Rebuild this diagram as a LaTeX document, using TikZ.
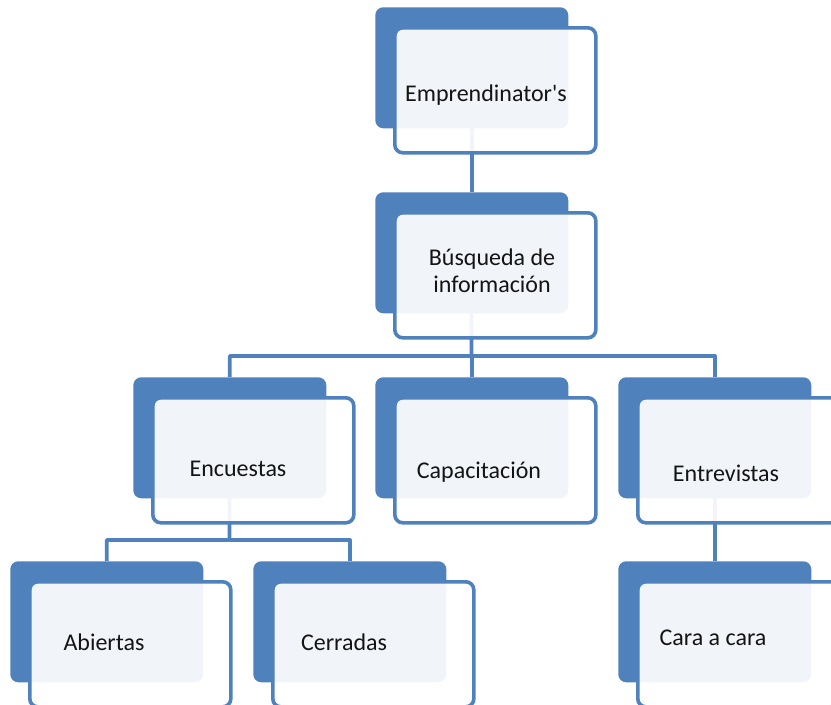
\documentclass[tikz,border=0pt]{standalone}
\usepackage{fontspec}
\setmainfont{Carlito}[Ligatures=TeXOff]
\usetikzlibrary{backgrounds}
\definecolor{boxblue}{RGB}{79,129,189}
\definecolor{inkgray}{RGB}{20,20,20}

\begin{document}
\begin{tikzpicture}[x=0.75pt, y=-0.75pt,
    backbox/.style={fill=boxblue, rounded corners=6pt, inner sep=0pt, anchor=north west,
        minimum width=193*0.75pt, minimum height=121*0.75pt},
    frontbox/.style={draw=boxblue, line width=2.7pt, fill=white, fill opacity=0.92,
        rounded corners=6pt, inner sep=0pt, anchor=north west,
        minimum width=201*0.75pt, minimum height=125*0.75pt},
    boxtext/.style={text=inkgray, align=center, font=\fontsize{18}{20.5}\selectfont},
    link/.style={draw=boxblue, line width=2.8pt, line join=round}]
    \useasboundingbox (0,0) rectangle (831,704);
    \clip (0,0) rectangle (831,704);
    % back box corners (top left)
    \def\pos { (375,7)
             , (375,192)
             , (133,377)
             , (375,377)
             , (618,377)
             , (10,561)
             , (253,561)
             , (618,561)
             };
    % draw box pairs
    \foreach \coords [count=\index] in \pos
    {
        \node[backbox] (b_\index) at \coords {};
        \node[frontbox] (f_\index) at ([shift={(18,19)}]b_\index.north west) {};
    }
    % labels
    \foreach \tx/\ty/\txt [count=\index] in {486/95/Emprendinator's,
        492/271/{Búsqueda de\\información}, 238/469/Encuestas,
        479/472/Capacitación, 726/473/Entrevistas, 104/642/Abiertas,
        344/642/Cerradas, 713/638/Cara a cara}
    {
        \node[boxtext] (t_\index) at (\tx,\ty) {\txt};
    }
    % junctions
    \coordinate (j_2) at (471.5,356);
    \coordinate (j_3) at (229.5,540);
    % edges
    \begin{scope}[on background layer]
        \draw[link] (b_1.center) -- (b_2.north);
        \draw[link] (b_2.center)  % level 2
            -- (j_2)
            -| (b_3.north);
        \draw[link] (j_2) -| (b_5.north);
        \draw[link] (j_2) -| (b_4.north);
        \draw[link] (b_3.center)  % level 3
            -- (j_3)
            -| (b_6.north);
        \draw[link] (j_3) -| (b_7.north);
        \draw[link] (b_5.center) -- (b_8.north);
    \end{scope}
\end{tikzpicture}
\end{document}
